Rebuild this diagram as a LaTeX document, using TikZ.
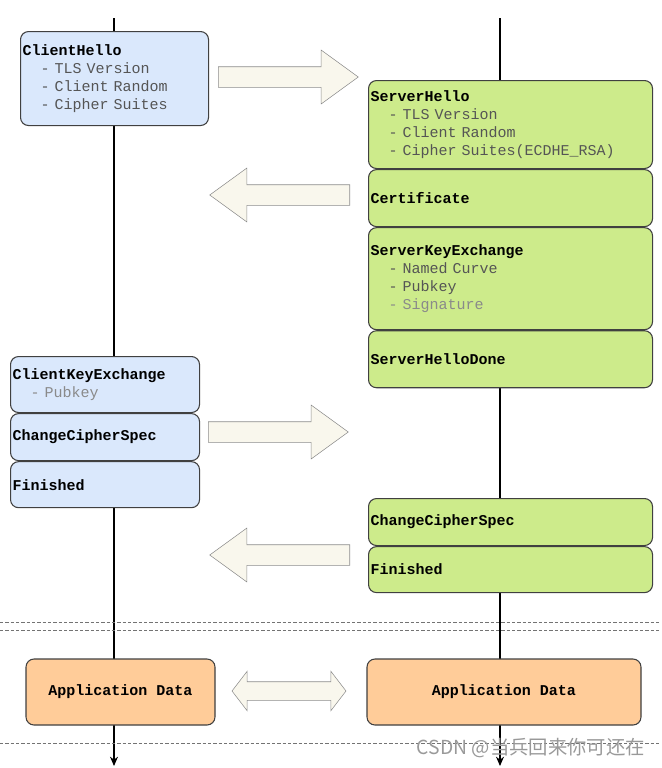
\documentclass[tikz,border=0pt]{standalone}
\usepackage{fontspec}
\setmonofont{Liberation Mono}
\newfontfamily\cjkfont{Noto Sans CJK SC}
\usetikzlibrary{shapes.arrows,arrows.meta}
\definecolor{cliblue}{HTML}{DAE8FC}
\definecolor{srvgreen}{HTML}{CDEB8B}
\definecolor{appor}{HTML}{FFCC99}
\definecolor{flowfill}{HTML}{F9F7ED}
\definecolor{itemgray}{HTML}{555555}
\definecolor{itemlight}{HTML}{8A8A8A}
\newcommand\msgfont{\ttfamily\fontsize{11.25}{13.5}\selectfont\spaceskip 6.75pt\relax}
\newcommand\itm[2][itemgray]{\textcolor{#1}{\phantom{xx}- #2}}

\begin{document}
\begin{tikzpicture}[x=0.75pt, y=-0.75pt,
        every node/.style={font=\msgfont},
        msg/.style={draw=black!75, line width=0.8pt, rounded corners=6pt, anchor=north west, align=left, inner xsep=1.5pt, inner ysep=0pt},
        cli/.style={msg, fill=cliblue, text width=138pt},
        srv/.style={msg, fill=srvgreen, text width=210pt},
        app/.style={draw=black!75, line width=0.8pt, rounded corners=6pt, fill=appor, minimum height=49.5pt, font=\msgfont\bfseries},
        flow/.style={single arrow, draw=black!45, fill=flowfill, inner ysep=7.5pt, inner xsep=0pt, single arrow head extend=12.5pt, single arrow tip angle=72, minimum height=105pt, anchor=tail},
        life/.style={line width=0.9pt, -{Stealth[length=7pt,width=6pt]}},
        cut/.style={draw=black!55, dash pattern=on 2.5pt off 1.5pt}
    ]
        \useasboundingbox (0,0) rectangle (661,768);

        % lifelines
        \coordinate (ctop) at (114,18);
        \coordinate (cend) at (114,766);
        \coordinate (stop) at (500,18);
        \coordinate (send) at (500,766);
        \draw[life] (ctop) -- (cend);
        \draw[life] (stop) -- (send);

        % cut lines
        \coordinate (cutAl) at (0,622);
        \coordinate (cutAr) at (661,622);
        \coordinate (cutBl) at (0,630);
        \coordinate (cutBr) at (661,630);
        \coordinate (cutCl) at (0,743);
        \coordinate (cutCr) at (661,743);
        \draw[cut] (cutAl) -- (cutAr);
        \draw[cut] (cutBl) -- (cutBr);
        \draw[cut] (cutCl) -- (cutCr);

        % client side
        \node[cli, minimum height=70.5pt] (chello) at (20,31)
            {\textbf{ClientHello}\\ \itm{TLS Version}\\ \itm{Client Random}\\ \itm{Cipher Suites}};
        \node[cli, text width=138.75pt, minimum height=42pt] (ckex) at (10,356)
            {\textbf{ClientKeyExchange}\\ \itm[itemlight]{Pubkey}};
        \node[cli, text width=138.75pt, minimum height=35.25pt] (cccs) at (ckex.south west) {\textbf{ChangeCipherSpec}};
        \node[cli, text width=138.75pt, minimum height=34.5pt] (cfin) at (cccs.south west) {\textbf{Finished}};

        % server side
        \node[srv, minimum height=66pt] (shello) at (368,80)
            {\textbf{ServerHello}\\ \itm{TLS Version}\\ \itm{Client Random}\\ \itm{Cipher Suites(ECDHE\_RSA)}};
        \node[srv, minimum height=42.75pt] (scert) at (shello.south west) {\textbf{Certificate}};
        \node[srv, minimum height=76.5pt] (skex) at (scert.south west)
            {\textbf{ServerKeyExchange}\\ \itm{Named Curve}\\ \itm{Pubkey}\\ \itm[itemlight]{Signature}};
        \node[srv, minimum height=42.75pt] (sdone) at (skex.south west) {\textbf{ServerHelloDone}};
        \node[srv, minimum height=35.25pt] (sccs) at (368,498) {\textbf{ChangeCipherSpec}};
        \node[srv, minimum height=34.5pt] (sfin) at (sccs.south west) {\textbf{Finished}};

        % flow arrows
        \node[flow] (flowA) at (218,77) {};
        \node[flow, shape border rotate=180] (flowB) at (350,195) {};
        \node[flow] (flowC) at (208,432) {};
        \node[flow, shape border rotate=180] (flowD) at (350,555) {};

        % application data
        \node[app, minimum width=141.75pt] (capp) at (120.5,692) {Application Data};
        \node[app, minimum width=205.5pt] (sapp) at (504,692) {Application Data};
        \node[double arrow, draw=black!45, fill=flowfill, inner ysep=6.75pt, inner xsep=0pt, double arrow head extend=7.9pt, double arrow tip angle=105, minimum height=85.5pt] (flowE) at (289,691) {};

        \node[font=\cjkfont\fontsize{14.5}{16}\selectfont, text=black!40, anchor=east, inner sep=0pt] (mark) at (645,748) {CSDN @当兵回来你可还在};
    \end{tikzpicture}
\end{document}
